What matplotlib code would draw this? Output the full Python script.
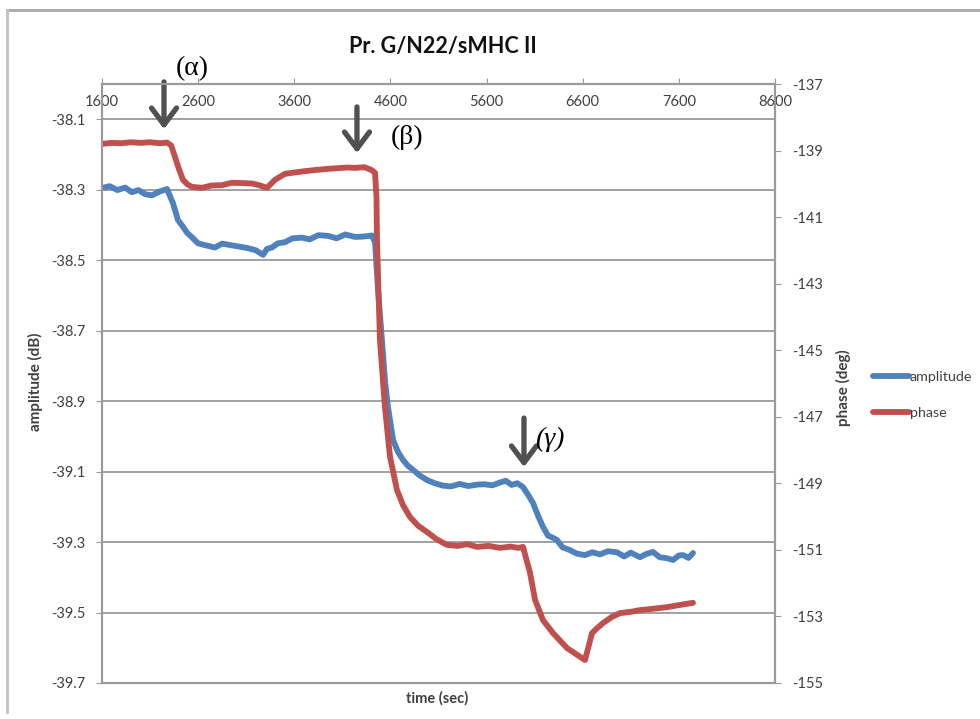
import matplotlib
matplotlib.use("Agg")
import matplotlib.pyplot as plt
from matplotlib.lines import Line2D

# ---- data (time in s, amplitude in dB, phase in deg)
amp_t = [1600, 1680, 1760, 1840, 1910, 1980, 2050, 2120, 2200, 2276, 2338, 2390,
         2442, 2484, 2536, 2598, 2680, 2775, 2850, 2952, 3040, 3119, 3200, 3275,
         3316, 3368, 3430, 3503, 3580, 3680, 3760, 3850, 3951, 4040, 4130, 4231,
         4320, 4408, 4440, 4471, 4512, 4543, 4575, 4627, 4680, 4731, 4780, 4835,
         4900, 4980, 5060, 5147, 5230, 5320, 5410, 5500, 5580, 5660, 5740, 5800,
         5860, 5920, 5979, 6030, 6083, 6135, 6187, 6240, 6291, 6332, 6390, 6468,
         6540, 6624, 6700, 6780, 6860, 6957, 7030, 7100, 7196, 7260, 7331, 7400,
         7477, 7539, 7600, 7643, 7700, 7747]
amplitude = [-38.295, -38.290, -38.301, -38.294, -38.307, -38.301, -38.313, -38.316,
             -38.305, -38.298, -38.338, -38.386, -38.405, -38.422, -38.435, -38.452,
             -38.458, -38.464, -38.453, -38.458, -38.462, -38.466, -38.472, -38.485,
             -38.468, -38.464, -38.452, -38.449, -38.438, -38.436, -38.441, -38.429,
             -38.431, -38.438, -38.427, -38.434, -38.433, -38.430, -38.450, -38.585,
             -38.727, -38.840, -38.917, -39.010, -39.045, -39.067, -39.083, -39.095,
             -39.110, -39.124, -39.133, -39.140, -39.142, -39.135, -39.141, -39.137,
             -39.136, -39.139, -39.131, -39.126, -39.138, -39.133, -39.144, -39.165,
             -39.189, -39.225, -39.257, -39.282, -39.288, -39.294, -39.315, -39.323,
             -39.333, -39.337, -39.329, -39.335, -39.326, -39.329, -39.341, -39.330,
             -39.343, -39.334, -39.328, -39.343, -39.346, -39.351, -39.338, -39.337,
             -39.345, -39.331]

ph_t = [1600, 1700, 1800, 1900, 2000, 2100, 2200, 2276, 2320, 2359, 2400, 2442,
        2490, 2536, 2640, 2740, 2848, 2950, 3087, 3160, 3223, 3316, 3399, 3503,
        3600, 3680, 3800, 3951, 4050, 4150, 4231, 4330, 4400, 4440, 4455, 4460,
        4491, 4543, 4596, 4668, 4730, 4803, 4890, 4980, 5080, 5188, 5300, 5400,
        5500, 5620, 5740, 5850, 5930, 5979, 6052, 6104, 6187, 6291, 6437, 6540,
        6624, 6697, 6750, 6811, 6900, 6988, 7100, 7196, 7330, 7477, 7600, 7747]
phase = [-138.80, -138.77, -138.78, -138.75, -138.77, -138.75, -138.78, -138.76,
         -138.85, -139.19, -139.55, -139.88, -140.02, -140.09, -140.12, -140.05,
         -140.04, -139.97, -139.98, -139.99, -140.03, -140.12, -139.88, -139.70,
         -139.66, -139.63, -139.59, -139.55, -139.53, -139.51, -139.52, -139.50,
         -139.58, -139.67, -140.40, -141.69, -144.69, -146.71, -148.21, -149.20,
         -149.65, -150.01, -150.28, -150.46, -150.68, -150.85, -150.88, -150.83,
         -150.91, -150.88, -150.94, -150.90, -150.94, -150.91, -151.69, -152.50,
         -153.11, -153.50, -153.95, -154.15, -154.31, -153.50, -153.35, -153.20,
         -153.02, -152.90, -152.86, -152.81, -152.77, -152.72, -152.66, -152.59]

x_ticks = [1600, 2600, 3600, 4600, 5600, 6600, 7600, 8600]
amp_ticks = [-39.7, -39.5, -39.3, -39.1, -38.9, -38.7, -38.5, -38.3, -38.1]
ph_ticks = [-155, -153, -151, -149, -147, -145, -143, -141, -139, -137]

# arrows: (label, x, tail, tip, label x, label y, style) in time / amplitude units
marks = [("(α)", 2245, -37.994, -38.128, 2536, -37.955, "normal"),
         ("(β)", 4252, -38.065, -38.196, 4772, -38.151, "normal"),
         ("(γ)", 5989, -38.948, -39.087, 6260, -39.010, "italic")]

BLUE = "#4F81BD"
RED = "#C0504D"
GRID = "#9a9a9a"
TXT = "#404040"

plt.rcParams["font.family"] = ["Lato", "DejaVu Sans"]
plt.rcParams["axes.unicode_minus"] = False

fig = plt.figure(figsize=(9.8, 7.19), dpi=100)
ax = fig.add_axes([102 / 980, 1 - 683 / 719, 673 / 980, 599 / 719])
ax2 = ax.twinx()

l1, = ax.plot(amp_t, amplitude, color=BLUE, lw=4.2, solid_capstyle="round",
              solid_joinstyle="round", label="amplitude")
l2, = ax2.plot(ph_t, phase, color=RED, lw=4.2, solid_capstyle="round",
               solid_joinstyle="round", label="phase")

ax.set_xlim(1600, 8600)
ax.set_ylim(-39.7, -38.0)
ax2.set_ylim(-155, -137)
ax.set_xticks(x_ticks)
ax.set_yticks(amp_ticks)
ax.set_yticklabels([f"{v:.1f}" for v in amp_ticks])
ax2.set_yticks(ph_ticks)

ax.yaxis.grid(True, color=GRID, lw=1.3)
ax.set_axisbelow(True)
for a in (ax, ax2):
    for s in a.spines.values():
        s.set_color(GRID)
        s.set_linewidth(1.5)
ax.spines["left"].set_color("#b8b8b8")

ax.tick_params(axis="x", top=True, labeltop=True, bottom=False, labelbottom=False,
               direction="out", length=4, color=GRID, pad=-22, labelsize=10.5,
               labelcolor=TXT)
ax.tick_params(axis="y", direction="out", length=4, color=GRID, pad=8,
               labelsize=10.5, labelcolor=TXT)
ax2.tick_params(axis="y", direction="out", length=4, color=GRID, pad=8,
                labelsize=10.5, labelcolor=TXT)

fig.text(35 / 980, 1 - 382 / 719, "amplitude (dB)", rotation=90, ha="center",
         va="center", fontsize=11, fontweight="bold", color=TXT)
fig.text(843 / 980, 1 - 388 / 719, "phase (deg)", rotation=90, ha="center",
         va="center", fontsize=11, fontweight="bold", color=TXT)
fig.text(437 / 980, 1 - 698 / 719, "time (sec)", ha="center", va="center",
         fontsize=10.5, fontweight="bold", color=TXT)
fig.text(443 / 980, 1 - 47 / 719, "Pr. G/N22/sMHC II", ha="center", va="center",
         fontsize=15.5, fontweight="bold", color="#111111")

fig.legend(handles=[l1, l2], loc="center left",
           bbox_to_anchor=(866 / 980, 1 - 395 / 719), frameon=False,
           handlelength=2.5, handletextpad=0.05, labelspacing=1.65,
           fontsize=10.3, borderpad=0, labelcolor=TXT)

for lab, x, tail, tip, lx, ly, st in marks:
    ax.annotate("", xy=(x, tip), xytext=(x, tail), annotation_clip=False,
                arrowprops=dict(arrowstyle="->,head_width=0.45,head_length=0.6",
                                color="#505050", lw=3.8, mutation_scale=20,
                                shrinkA=0, shrinkB=0))
    ax.text(lx, ly, lab, ha="center", va="center", fontsize=20, style=st,
            family=["Liberation Serif", "DejaVu Serif"], clip_on=False)

# outer chart frame (partly cropped in the reference)
fig.add_artist(Line2D([7 / 980, 1], [1 - 10 / 719, 1 - 10 / 719],
                      color="#a8a8a8", lw=2, transform=fig.transFigure))
fig.add_artist(Line2D([7 / 980, 7 / 980], [1 - 10 / 719, 1 - 712 / 719],
                      color="#c0c0c0", lw=2, transform=fig.transFigure))

fig.savefig("out.png", dpi=100)
